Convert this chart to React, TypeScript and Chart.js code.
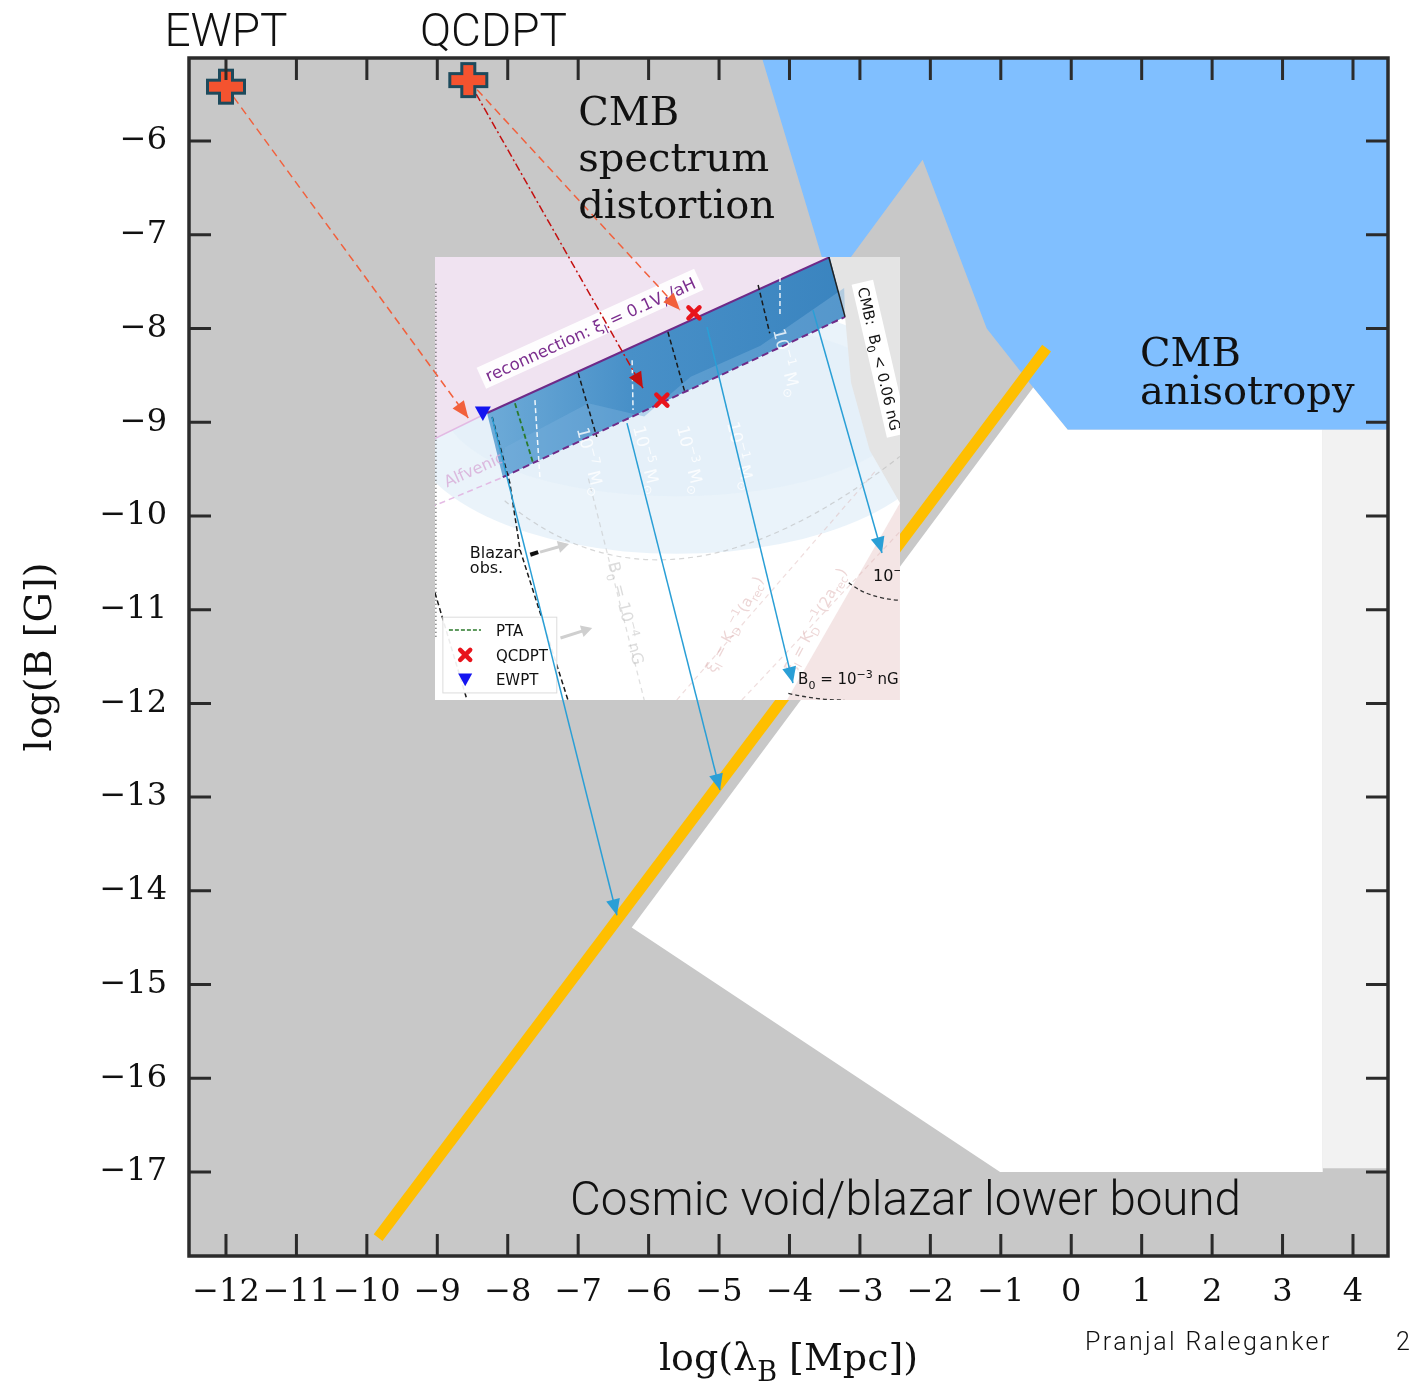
import React, { useEffect, useRef } from 'react';
import { Chart, registerables } from 'chart.js';

Chart.register(...registerables);

// ---------------- axes ----------------
const X_MIN = -12.525, X_MAX = 4.497, Y_MIN = -17.896, Y_MAX = -5.114;
const xTickValues = [-12, -11, -10, -9, -8, -7, -6, -5, -4, -3, -2, -1, 0, 1, 2, 3, 4];
const yTickValues = [-17, -16, -15, -14, -13, -12, -11, -10, -9, -8, -7, -6];

// ---------------- regions ----------------
// CMB anisotropy (blue)
const cmbAnisoX = [-4.39, 4.497, 4.497, -0.05, -0.54, -1.20, -2.11, -3.13, -3.54, -4.39];
const cmbAnisoY = [-5.114, -5.114, -9.08, -9.08, -8.63, -8.00, -6.20, -7.24, -7.24, -5.114];
// allowed (white) region
const allowedX = [-0.54, -0.05, 3.57, 3.57, -1.01, -6.24, -0.54];
const allowedY = [-8.63, -9.08, -9.08, -17.0, -17.0, -14.39, -8.63];
// light strip on the right
const stripX = [3.57, 4.497, 4.497, 3.57, 3.57];
const stripY = [-9.08, -9.08, -16.96, -16.96, -9.08];
// orange evolution line
const orangeX = [-9.84, -0.35];
const orangeY = [-17.70, -8.21];

// ---------------- markers & arrows ----------------
const markerNames = ['EWPT', 'QCDPT'];
const markerX = [-12.0, -8.56];
const markerY = [-5.42, -5.35];

const ewptArrowX = [-12.0, -8.56];
const ewptArrowY = [-5.42, -8.955];
const qcdArrowAX = [-8.56, -5.555];
const qcdArrowAY = [-5.35, -7.803];
const qcdArrowBX = [-8.56, -6.08];
const qcdArrowBY = [-5.35, -8.635];

const blue1X = [-8.224, -6.45];
const blue1Y = [-8.945, -14.26];
const blue2X = [-6.307, -4.987];
const blue2Y = [-9.009, -12.924];
const blue3X = [-5.171, -3.951];
const blue3Y = [-7.984, -11.783];
const blue4X = [-3.667, -2.687];
const blue4Y = [-7.803, -10.396];

// ---------------- text labels ----------------
const cmbSpecLines = ['CMB', 'spectrum', 'distortion'];
const cmbSpecX = -7.0;
const cmbSpecY = [-5.829, -6.32, -6.82];
const cmbAnisoLines = ['CMB', 'anisotropy'];
const cmbAnisoLabelX = 0.976;
const cmbAnisoLabelY = [-8.40, -8.806];
const voidLabel = 'Cosmic void/blazar lower bound';
const voidLabelX = -7.116;
const voidLabelY = -17.459;
const topLabelY = -4.986;
const ewptLabelX = -12.0;
const qcdLabelX = -9.246;

// ---------------- inset (embedded figure), unit coords u→right, v→down ----------------
const insetX = [-9.033, -2.432];
const insetY = [-7.238, -11.964];
const insetPink = [[0, 0], [0.849, 0], [0.112, 0.352], [0, 0.41]];
const insetGray = [[0.847, 0], [1, 0], [1, 0.555], [0.935, 0.436], [0.895, 0.284], [0.882, 0.135]];
const insetPinkBR = [[1, 0.555], [1, 1], [0.757, 1]];
const insetBand = [[0.112, 0.352], [0.849, 0], [0.882, 0.135], [0.146, 0.497]];
const insetBlackDashed = [
  [[0.308, 0.262], [0.348, 0.406]],
  [[0.501, 0.169], [0.538, 0.307]],
  [[0.695, 0.063], [0.720, 0.172]],
  [[0.123, 0.361], [0.161, 0.51], [0.183, 0.661], [0.286, 1.0]],
  [[0, 0.758], [0.069, 1.0]],
];
const insetWhiteDashed = [
  [[0.742, 0.045], [0.742, 0.135]],
  [[0.424, 0.233], [0.426, 0.345]],
  [[0.215, 0.323], [0.226, 0.503]],
];
const insetPTA = [[0.172, 0.33], [0.211, 0.465]];
const insetRedX = [[0.557, 0.126], [0.488, 0.323]];
const insetTri = [0.103, 0.352];

function makePlus(): HTMLCanvasElement {
  const c = document.createElement('canvas');
  c.width = 44; c.height = 40;
  const g = c.getContext('2d')!;
  const cx = 22, cy = 20, a = 18.5, b = 16.5, t = 6.5;
  g.beginPath();
  g.moveTo(cx - t, cy - b); g.lineTo(cx + t, cy - b); g.lineTo(cx + t, cy - t);
  g.lineTo(cx + a, cy - t); g.lineTo(cx + a, cy + t); g.lineTo(cx + t, cy + t);
  g.lineTo(cx + t, cy + b); g.lineTo(cx - t, cy + b); g.lineTo(cx - t, cy + t);
  g.lineTo(cx - a, cy + t); g.lineTo(cx - a, cy - t); g.lineTo(cx - t, cy - t);
  g.closePath();
  g.fillStyle = '#f4532f'; g.fill();
  g.lineWidth = 3; g.strokeStyle = '#1d4a5c'; g.stroke();
  return c;
}

type Part = [string, number];
function drawRich(ctx: CanvasRenderingContext2D, parts: Part[], x: number, y: number, size: number, family: string, color: string, align: string, style = '') {
  const fontFor = (l: number) => `${style} ${l === 0 ? size : Math.round(size * 0.7)}px ${family}`;
  let w = 0;
  for (const [s, l] of parts) { ctx.font = fontFor(l); w += ctx.measureText(s).width; }
  let cx = align === 'center' ? x - w / 2 : x;
  ctx.fillStyle = color;
  ctx.textAlign = 'left';
  for (const [s, l] of parts) {
    ctx.font = fontFor(l);
    const dy = l === -1 ? size * 0.3 : l === 1 ? -size * 0.4 : 0;
    ctx.fillText(s, cx, y + dy);
    cx += ctx.measureText(s).width;
  }
  return w;
}
function measureRich(ctx: CanvasRenderingContext2D, parts: Part[], size: number, family: string) {
  let w = 0;
  for (const [s, l] of parts) { ctx.font = `${l === 0 ? size : Math.round(size * 0.7)}px ${family}`; w += ctx.measureText(s).width; }
  return w;
}

const toPts = (xs: number[], ys: number[]) => xs.map((x, i) => ({ x, y: ys[i] }));

function drawInset(chart: any) {
  const { ctx } = chart;
  const xs = chart.scales.x, ys = chart.scales.y;
  const U = (u: number) => xs.getPixelForValue(insetX[0] + u * (insetX[1] - insetX[0]));
  const V = (v: number) => ys.getPixelForValue(insetY[0] + v * (insetY[1] - insetY[0]));
  const x0 = U(0), x1 = U(1), y0 = V(0), y1 = V(1);
  const poly = (pts: number[][], fill: any) => {
    ctx.beginPath();
    pts.forEach(([u, v], i) => (i ? ctx.lineTo(U(u), V(v)) : ctx.moveTo(U(u), V(v))));
    ctx.closePath(); ctx.fillStyle = fill; ctx.fill();
  };
  const path = (pts: number[][], color: string, w: number, dash: number[] = []) => {
    ctx.beginPath();
    pts.forEach(([u, v], i) => (i ? ctx.lineTo(U(u), V(v)) : ctx.moveTo(U(u), V(v))));
    ctx.setLineDash(dash); ctx.strokeStyle = color; ctx.lineWidth = w; ctx.stroke(); ctx.setLineDash([]);
  };
  const rot = (u: number, v: number, deg: number, fn: () => void) => {
    ctx.save(); ctx.translate(U(u), V(v)); ctx.rotate((deg * Math.PI) / 180); fn(); ctx.restore();
  };
  ctx.save();
  ctx.beginPath(); ctx.rect(x0, y0, x1 - x0, y1 - y0); ctx.clip();
  ctx.fillStyle = '#ffffff'; ctx.fillRect(x0, y0, x1 - x0, y1 - y0);
  // pale glow
  ctx.beginPath();
  ctx.ellipse(U(0.52), V(0.38), U(0.58) - U(0), V(0.29) - V(0), 0, 0, Math.PI * 2);
  ctx.fillStyle = 'rgba(225,238,248,0.7)'; ctx.fill();
  ctx.beginPath();
  ctx.ellipse(U(0.52), V(0.34), U(0.5) - U(0), V(0.2) - V(0), 0, 0, Math.PI * 2);
  ctx.fillStyle = 'rgba(225,238,248,0.6)'; ctx.fill();
  poly(insetPinkBR, '#f4e5e5');
  poly(insetPink, '#f0e3f1');
  poly(insetGray, '#e4e4e4');
  // band
  const grad = ctx.createLinearGradient(U(0.11), 0, U(0.88), 0);
  grad.addColorStop(0, '#6eabd8'); grad.addColorStop(0.4, '#4890c8'); grad.addColorStop(1, '#3a84bf');
  poly(insetBand, grad);
  // lighter lobe along lower edge of band
  poly([[0.146, 0.497], [0.15, 0.43], [0.33, 0.33], [0.45, 0.36], [0.55, 0.27], [0.70, 0.20], [0.88, 0.07], [0.882, 0.135]], 'rgba(120,175,220,0.45)');
  // gray faint arcs
  ctx.beginPath(); ctx.moveTo(U(0.15), V(0.55));
  ctx.quadraticCurveTo(U(0.5), V(0.86), U(1.0), V(0.45));
  ctx.setLineDash([5, 4]); ctx.strokeStyle = 'rgba(175,175,175,0.5)'; ctx.lineWidth = 1.2; ctx.stroke(); ctx.setLineDash([]);
  path([[0.33, 0.50], [0.45, 1.0]], 'rgba(190,190,190,0.5)', 1.2, [5, 4]);
  path([[0.52, 1.0], [0.95, 0.48]], 'rgba(220,180,180,0.45)', 1.2, [5, 4]);
  path([[0.66, 1.0], [1.0, 0.62]], 'rgba(220,180,180,0.45)', 1.2, [5, 4]);
  // left axis of inset
  path([[0.002, 0.06], [0.002, 0.86]], '#333', 1.2, [1, 3]);
  // purple lines
  path([[0.112, 0.352], [0.849, 0]], '#6e2a88', 2);
  path([[0.146, 0.497], [0.882, 0.135]], '#6e2a88', 2, [7, 4]);
  path([[-0.01, 0.565], [0.146, 0.497]], 'rgba(225,180,225,0.9)', 1.5, [6, 4]);
  path([[0, 0.41], [0.112, 0.352]], 'rgba(225,180,225,0.9)', 1.5);
  path([[0.847, 0], [0.882, 0.135]], '#222', 1.5);
  insetBlackDashed.forEach((p) => path(p, '#1a1a1a', 1.5, [5, 3]));
  insetWhiteDashed.forEach((p) => path(p, 'rgba(255,255,255,0.9)', 1.5, [5, 3]));
  path(insetPTA, '#2b7a2b', 1.8, [5, 3]);
  // dashed black arcs near right labels
  ctx.beginPath(); ctx.moveTo(U(0.89), V(0.735)); ctx.quadraticCurveTo(U(0.93), V(0.77), U(1.0), V(0.775));
  ctx.setLineDash([4, 3]); ctx.strokeStyle = '#333'; ctx.lineWidth = 1.3; ctx.stroke();
  ctx.beginPath(); ctx.moveTo(U(0.76), V(0.985)); ctx.quadraticCurveTo(U(0.82), V(1.0), U(0.88), V(1.0)); ctx.stroke();
  ctx.setLineDash([]);

  const fam = '"DejaVu Sans"';
  // reconnection label
  const ang = Math.atan2(V(0) - V(0.352), U(0.849) - U(0.112));
  const recParts: Part[] = [['reconnection: ξ', 0], ['l', -1], [' = 0.1V', 0], ['A', -1], ['/aH', 0]];
  ctx.save(); ctx.translate(U(0.335), V(0.165)); ctx.rotate(ang);
  const rw = measureRich(ctx, recParts, 16.5, fam);
  ctx.fillStyle = 'rgba(255,255,255,0.92)'; ctx.fillRect(-rw / 2 - 5, -13, rw + 10, 23);
  drawRich(ctx, recParts, 0, 5, 16.5, fam, '#7b2d8e', 'center');
  ctx.restore();
  // CMB label
  const cmbParts: Part[] = [['CMB:  B', 0], ['0', -1], [' < 0.06 nG', 0]];
  ctx.save(); ctx.translate(U(0.955), V(0.23)); ctx.rotate((77 * Math.PI) / 180);
  const cw = measureRich(ctx, cmbParts, 15, fam);
  ctx.fillStyle = '#ffffff'; ctx.fillRect(-cw / 2 - 5, -12, cw + 10, 22);
  drawRich(ctx, cmbParts, 0, 5, 15, fam, '#111', 'center');
  ctx.restore();
  // faint white mass labels
  const massLabels: [string, number, number][] = [['7', 0.305, 0.388], ['5', 0.426, 0.384], ['3', 0.52, 0.384], ['1', 0.628, 0.375], ['1', 0.727, 0.165]];
  massLabels.forEach(([e, u, v]) => rot(u, v, 76, () => drawRich(ctx, [['10', 0], ['−' + e, 1], [' M', 0], ['⊙', -1]], 0, 0, 17, fam, 'rgba(255,255,255,0.8)', 'left')));
  rot(0.372, 0.691, 76, () => drawRich(ctx, [['B', 0], ['0', -1], [' = 10', 0], ['−4', 1], [' nG', 0]], 0, 0, 16, fam, 'rgba(185,185,185,0.5)', 'left'));
  rot(0.026, 0.52, -24, () => drawRich(ctx, [['Alfvenic', 0]], 0, 0, 16, fam, 'rgba(215,170,215,0.8)', 'left'));
  rot(0.60, 0.94, -62, () => drawRich(ctx, [['ξ', 0], ['l', -1], [' = K', 0], ['D', -1], ['−1', 1], ['(a', 0], ['rec', -1], [')', 0]], 0, 0, 15, fam, 'rgba(215,165,165,0.45)', 'left'));
  rot(0.77, 0.94, -62, () => drawRich(ctx, [['ξ', 0], ['l', -1], [' = K', 0], ['D', -1], ['−1', 1], ['(2a', 0], ['rec', -1], [')', 0]], 0, 0, 15, fam, 'rgba(215,165,165,0.45)', 'left'));
  // Blazar obs.
  drawRich(ctx, [['Blazar', 0]], U(0.075), V(0.68), 16, fam, '#111', 'left');
  drawRich(ctx, [['obs.', 0]], U(0.075), V(0.713), 16, fam, '#111', 'left');
  path([[0.205, 0.672], [0.222, 0.666]], '#111', 4);
  const grayArrow = (a: number[], b: number[]) => {
    path([a, b], '#cfcfcf', 3);
    const ax = U(b[0]), ay = V(b[1]);
    const an = Math.atan2(V(b[1]) - V(a[1]), U(b[0]) - U(a[0]));
    ctx.save(); ctx.translate(ax, ay); ctx.rotate(an);
    ctx.beginPath(); ctx.moveTo(4, 0); ctx.lineTo(-7, 6); ctx.lineTo(-7, -6); ctx.closePath(); ctx.fillStyle = '#cfcfcf'; ctx.fill(); ctx.restore();
  };
  grayArrow([0.226, 0.666], [0.28, 0.65]);
  grayArrow([0.27, 0.86], [0.33, 0.84]);
  // right labels
  drawRich(ctx, [['10', 0], ['−', 1]], U(0.942), V(0.731), 16, fam, '#111', 'left');
  drawRich(ctx, [['B', 0], ['0', -1], [' = 10', 0], ['−3', 1], [' nG', 0]], U(0.781), V(0.964), 15, fam, '#111', 'left', '');
  // legend
  const lx0 = U(0.017), ly0 = V(0.813), lx1 = U(0.262), ly1 = V(0.984);
  ctx.fillStyle = 'rgba(255,255,255,0.92)'; ctx.fillRect(lx0, ly0, lx1 - lx0, ly1 - ly0);
  ctx.strokeStyle = '#dcdcdc'; ctx.lineWidth = 1; ctx.strokeRect(lx0, ly0, lx1 - lx0, ly1 - ly0);
  path([[0.03, 0.842], [0.099, 0.842]], '#2b7a2b', 1.5, [4, 2]);
  drawRich(ctx, [['PTA', 0]], U(0.131), V(0.856), 15, fam, '#111', 'left');
  drawRich(ctx, [['QCDPT', 0]], U(0.131), V(0.912), 15, fam, '#111', 'left');
  drawRich(ctx, [['EWPT', 0]], U(0.131), V(0.966), 15, fam, '#111', 'left');
  const redX = (u: number, v: number, s: number) => {
    const cx = U(u), cy = V(v);
    ctx.beginPath(); ctx.moveTo(cx - s, cy - s); ctx.lineTo(cx + s, cy + s); ctx.moveTo(cx + s, cy - s); ctx.lineTo(cx - s, cy + s);
    ctx.strokeStyle = '#e8141c'; ctx.lineWidth = 4.5; ctx.lineCap = 'round'; ctx.stroke(); ctx.lineCap = 'butt';
  };
  const blueTri = (u: number, v: number, s: number) => {
    const cx = U(u), cy = V(v);
    ctx.beginPath(); ctx.moveTo(cx - s, cy - s * 0.8); ctx.lineTo(cx + s, cy - s * 0.8); ctx.lineTo(cx, cy + s); ctx.closePath();
    ctx.fillStyle = '#1414f0'; ctx.fill();
  };
  redX(0.065, 0.898, 5);
  blueTri(0.065, 0.953, 7);
  insetRedX.forEach(([u, v]) => redX(u, v, 5.5));
  blueTri(insetTri[0], insetTri[1], 8);
  ctx.restore();
}

const bgPlugin = {
  id: 'bg',
  beforeDatasetsDraw(chart: any) {
    const { ctx, chartArea: a } = chart;
    ctx.save(); ctx.fillStyle = '#c8c8c8'; ctx.fillRect(a.left, a.top, a.right - a.left, a.bottom - a.top); ctx.restore();
  },
};

const insetPlugin = {
  id: 'inset',
  afterDatasetDraw(chart: any, args: any) {
    const ds = chart.data.datasets[args.index];
    if (ds && ds.label === 'orange') drawInset(chart);
  },
};

const annoPlugin = {
  id: 'anno',
  afterDatasetsDraw(chart: any) {
    const { ctx } = chart;
    const xs = chart.scales.x, ys = chart.scales.y;
    const px = (x: number) => xs.getPixelForValue(x), py = (y: number) => ys.getPixelForValue(y);
    ctx.save();
    // arrow heads
    chart.data.datasets.forEach((ds: any, i: number) => {
      if (!ds.arrowHead) return;
      const pts = chart.getDatasetMeta(i).data;
      const p0 = pts[pts.length - 2], p1 = pts[pts.length - 1];
      const an = Math.atan2(p1.y - p0.y, p1.x - p0.x);
      const { len, half, color } = ds.arrowHead;
      ctx.save(); ctx.translate(p1.x, p1.y); ctx.rotate(an);
      ctx.beginPath(); ctx.moveTo(0, 0); ctx.lineTo(-len, half); ctx.lineTo(-len, -half); ctx.closePath();
      ctx.fillStyle = color; ctx.fill(); ctx.restore();
    });
    ctx.textAlign = 'left'; ctx.textBaseline = 'alphabetic'; ctx.fillStyle = '#111';
    ctx.font = '40px "DejaVu Serif"';
    cmbSpecLines.forEach((s, i) => ctx.fillText(s, px(cmbSpecX), py(cmbSpecY[i])));
    cmbAnisoLines.forEach((s, i) => ctx.fillText(s, px(cmbAnisoLabelX), py(cmbAnisoLabelY[i])));
    ctx.font = '300 47.5px Roboto';
    ctx.fillText(voidLabel, px(voidLabelX), py(voidLabelY));
    ctx.font = '300 46px Roboto';
    ctx.textAlign = 'center';
    ctx.fillText(markerNames[0], px(ewptLabelX), py(topLabelY));
    ctx.textAlign = 'left';
    ctx.fillText(markerNames[1], px(qcdLabelX), py(topLabelY));
    ctx.restore();
  },
};

const framePlugin = {
  id: 'frame',
  afterDraw(chart: any) {
    const { ctx, chartArea: a } = chart;
    const xs = chart.scales.x, ys = chart.scales.y;
    ctx.save();
    ctx.strokeStyle = '#2b2b2b'; ctx.lineWidth = 3;
    const T = 22;
    ctx.beginPath();
    for (const v of xTickValues) {
      const p = xs.getPixelForValue(v);
      ctx.moveTo(p, a.top); ctx.lineTo(p, a.top + T);
      ctx.moveTo(p, a.bottom); ctx.lineTo(p, a.bottom - T);
    }
    for (const v of yTickValues) {
      const p = ys.getPixelForValue(v);
      ctx.moveTo(a.left, p); ctx.lineTo(a.left + T, p);
      ctx.moveTo(a.right, p); ctx.lineTo(a.right - T, p);
    }
    ctx.stroke();
    ctx.lineWidth = 3.5;
    ctx.strokeRect(a.left, a.top, a.right - a.left, a.bottom - a.top);
    // x title with subscript
    ctx.textBaseline = 'alphabetic';
    drawRich(ctx, [['log(λ', 0], ['B', -1], [' [Mpc])', 0]], (a.left + a.right) / 2, 1370, 38, '"DejaVu Serif"', '#111', 'center');
    // footer
    ctx.font = '300 25px Roboto';
    (ctx as any).letterSpacing = '2.4px';
    ctx.fillStyle = '#111'; ctx.textAlign = 'left';
    ctx.fillText('Pranjal Raleganker', 1085, 1350);
    ctx.fillText('2', 1396, 1350);
    ctx.restore();
  },
};

const fmt = (v: number) => (v < 0 ? '\u2212' + Math.abs(v) : String(v));

export default function App() {
  const ref = useRef<HTMLCanvasElement>(null);
  useEffect(() => {
    const canvas = ref.current!;
    const plus = makePlus();
    const poly = (xs: number[], ys: number[], color: string, order: number) => ({
      type: 'line', data: toPts(xs, ys), backgroundColor: color, borderColor: 'rgba(0,0,0,0)', borderWidth: 0,
      fill: 'shape', pointRadius: 0, tension: 0, order,
    });
    const arrow = (xs: number[], ys: number[], color: string, dash: number[], len: number, half: number) => ({
      type: 'line', data: toPts(xs, ys), borderColor: color, borderWidth: 1.5, borderDash: dash,
      fill: false, pointRadius: 0, order: 5, arrowHead: { len, half, color },
    });
    const chart = new Chart(canvas, {
      type: 'scatter',
      data: {
        datasets: [
          { ...poly(cmbAnisoX, cmbAnisoY, '#80bfff', 10), label: 'cmbAniso' },
          { ...poly(allowedX, allowedY, '#ffffff', 9), label: 'allowed' },
          { ...poly(stripX, stripY, '#f2f2f2', 8), label: 'strip' },
          {
            type: 'line', label: 'orange', data: toPts(orangeX, orangeY), borderColor: '#ffbf00', borderWidth: 11,
            borderCapStyle: 'butt', fill: false, pointRadius: 0, order: 7,
          },
          { ...arrow(ewptArrowX, ewptArrowY, '#f2603c', [8, 5], 17, 7), label: 'ewptArrow' },
          { ...arrow(qcdArrowAX, qcdArrowAY, '#f2603c', [8, 5], 17, 7), label: 'qcdArrowA' },
          { ...arrow(qcdArrowBX, qcdArrowBY, '#c41010', [8, 3, 2, 3], 16, 7), label: 'qcdArrowB' },
          { ...arrow(blue1X, blue1Y, '#2a9fd6', [], 16, 7), label: 'b1' },
          { ...arrow(blue2X, blue2Y, '#2a9fd6', [], 16, 7), label: 'b2' },
          { ...arrow(blue3X, blue3Y, '#2a9fd6', [], 16, 7), label: 'b3' },
          { ...arrow(blue4X, blue4Y, '#2a9fd6', [], 16, 7), label: 'b4' },
          {
            type: 'line', label: 'markers', data: toPts(markerX, markerY), showLine: false,
            pointStyle: plus, pointRadius: 20, order: 1,
          },
        ] as any,
      },
      options: {
        animation: false,
        responsive: false,
        maintainAspectRatio: false,
        layout: { padding: { top: 58, right: 25, left: 0, bottom: 0 } },
        plugins: { legend: { display: false }, tooltip: { enabled: false } },
        scales: {
          x: {
            type: 'linear', min: X_MIN, max: X_MAX,
            afterBuildTicks: (s: any) => { s.ticks = xTickValues.map((v) => ({ value: v })); },
            afterFit: (s: any) => { s.height = 127; },
            grid: { display: false, drawTicks: false },
            border: { display: false },
            ticks: {
              autoSkip: false, maxRotation: 0, padding: 17, color: '#111',
              font: { family: '"DejaVu Serif"', size: 32 },
              callback: (v: any) => fmt(Number(v)),
            },
          },
          y: {
            type: 'linear', min: Y_MIN, max: Y_MAX,
            afterBuildTicks: (s: any) => { s.ticks = yTickValues.map((v) => ({ value: v })); },
            afterFit: (s: any) => { s.width = 189; },
            grid: { display: false, drawTicks: false },
            border: { display: false },
            title: {
              display: true, text: 'log(B [G])', color: '#111',
              font: { family: '"DejaVu Serif"', size: 38 }, padding: { top: 18, bottom: 0 },
            },
            ticks: {
              autoSkip: false, padding: 22, color: '#111',
              font: { family: '"DejaVu Serif"', size: 32 },
              callback: (v: any) => fmt(Number(v)),
            },
          },
        },
      } as any,
      plugins: [bgPlugin, insetPlugin, annoPlugin, framePlugin],
    });
    return () => chart.destroy();
  }, []);
  return (
    <div style={{ position: 'absolute', left: 0, top: 0, width: 1413, height: 1383, background: '#ffffff' }}>
      <canvas ref={ref} width={1413} height={1383} style={{ width: 1413, height: 1383, display: 'block' }} />
    </div>
  );
}
